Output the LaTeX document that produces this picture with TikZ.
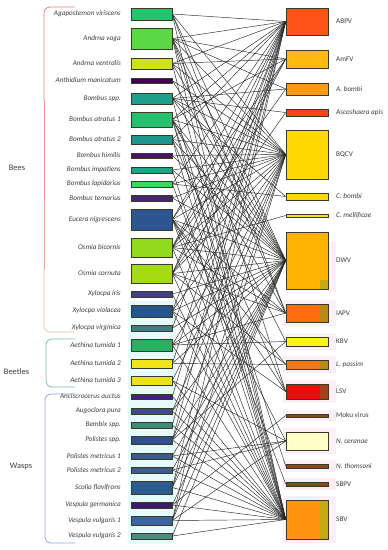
\documentclass[tikz,border=0pt]{standalone}
\usepackage{fontspec}
\setmainfont{Carlito}
\usetikzlibrary{calc}
\pgfdeclarelayer{halo}
\pgfdeclarelayer{edges}
\pgfsetlayers{halo,edges,main}
% left colours
\definecolor{cAgap}{HTML}{22C46E}
\definecolor{cVaga}{HTML}{5CD844}
\definecolor{cVent}{HTML}{CFE11C}
\definecolor{cAnth}{HTML}{440154}
\definecolor{cBspp}{HTML}{1F9E89}
\definecolor{cBat1}{HTML}{26C06E}
\definecolor{cBat2}{HTML}{1F968B}
\definecolor{cBhim}{HTML}{471365}
\definecolor{cBimp}{HTML}{20A386}
\definecolor{cBlap}{HTML}{35DD5C}
\definecolor{cBter}{HTML}{482475}
\definecolor{cEuc}{HTML}{2D5592}
\definecolor{cObic}{HTML}{93D91C}
\definecolor{cOcor}{HTML}{A6DB14}
\definecolor{cXiri}{HTML}{433E85}
\definecolor{cXvio}{HTML}{26568E}
\definecolor{cXvir}{HTML}{407C84}
\definecolor{cAe1}{HTML}{28B163}
\definecolor{cAe2}{HTML}{F0E619}
\definecolor{cAe3}{HTML}{E9E31B}
\definecolor{cAnc}{HTML}{46237A}
\definecolor{cAug}{HTML}{3E4A89}
\definecolor{cBem}{HTML}{3E8C78}
\definecolor{cPol}{HTML}{31508D}
\definecolor{cPm1}{HTML}{3A5B8C}
\definecolor{cPm2}{HTML}{3A5E8C}
\definecolor{cSco}{HTML}{2A5C90}
\definecolor{cVge}{HTML}{3F1A6B}
\definecolor{cVv1}{HTML}{3B64A0}
\definecolor{cVv2}{HTML}{4A8C7F}
% right colours
\definecolor{cABPV}{HTML}{FF5418}
\definecolor{cAmFV}{HTML}{FFB90F}
\definecolor{cAbo}{HTML}{FF9A14}
\definecolor{cAsc}{HTML}{FF4218}
\definecolor{cBQ}{HTML}{FFD800}
\definecolor{cCB}{HTML}{FFD70F}
\definecolor{cCM}{HTML}{FFDF20}
\definecolor{cDW}{HTML}{FFB300}
\definecolor{cIA}{HTML}{FF6D0D}
\definecolor{cKB}{HTML}{F8F519}
\definecolor{cLP}{HTML}{F07A1A}
\definecolor{cLS}{HTML}{E60E0E}
\definecolor{cBrown}{HTML}{8B4A1A}
\definecolor{cNC}{HTML}{FFFFC8}
\definecolor{cSB}{HTML}{FF9410}
\definecolor{cOlive}{HTML}{BC8A14}
\definecolor{cOliveY}{HTML}{C8A812}
\definecolor{cLSs}{HTML}{A4401A}
\definecolor{boxline}{HTML}{3A3A28}
\definecolor{txt}{HTML}{3C3C3C}
\definecolor{cyanhalo}{HTML}{E6FBFB}
\definecolor{pinkhalo}{HTML}{FDEFF8}
\definecolor{brA}{HTML}{F07C7C}
\definecolor{brB}{HTML}{EE9890}
\definecolor{brC}{HTML}{EAAA98}
\definecolor{brD}{HTML}{E4BCA0}
\definecolor{brBeet}{HTML}{72C2AC}
\definecolor{brWasp}{HTML}{8CA6D8}
\tikzset{
  box/.style={draw=boxline, line width=0.6pt, rectangle, inner sep=0pt},
  lbox/.style={box, minimum width=41pt},
  rbox/.style={box, minimum width=42pt},
  llab/.style={font=\fontsize{7.2}{8}\selectfont\itshape, text=txt, inner sep=0pt, anchor=east},
  rlab/.style={font=\fontsize{7.2}{8}\selectfont, text=txt, inner sep=0pt, anchor=west},
  grp/.style={font=\fontsize{8.4}{10}\selectfont, text=txt, inner sep=0pt},
  edge/.style={draw=black!85, line width=0.45pt},
  strip/.style={path picture={\fill[#1] ([xshift=-8pt]path picture bounding box.north east) rectangle (path picture bounding box.south east);}},
  corner/.style={path picture={\fill[#1] ([xshift=-8pt,yshift=9pt]path picture bounding box.south east) rectangle (path picture bounding box.south east);}},
  halo/.style={fill=pinkhalo},
  brk/.style={line width=0.8pt, rounded corners=6pt}
}
\newcommand\lnode[5]{\node[lbox, fill=#4, minimum height=#3pt] (#1) at (151.5,#2) {};
  \node[llab] (#1t) at (121,#2) {#5};}
\newcommand\rnode[6]{\node[rbox, fill=#4, minimum height=#3pt, #6] (#1) at (307,#2) {};
  \node[rlab] (#1t) at (336,#2) {#5};}
\begin{document}
\begin{tikzpicture}[x=1pt,y=-1pt]
\useasboundingbox (0,0) rectangle (388,550);
% left nodes
\lnode{L1}{14}{12}{cAgap}{Agapostemon viriscens}
\lnode{L2}{38.5}{21}{cVaga}{Andrna vaga}
\lnode{L3}{63.5}{11}{cVent}{Andrna ventralis}
\lnode{L4}{80.5}{5}{cAnth}{Anthidium manicatum}
\lnode{L5}{98.5}{11}{cBspp}{Bombus spp.}
\lnode{L6}{119.5}{15}{cBat1}{Bombus atratus 1}
\lnode{L7}{139.5}{9}{cBat2}{Bombus atratus 2}
\lnode{L8}{155.5}{5}{cBhim}{Bombus himilis}
\lnode{L9}{170}{6}{cBimp}{Bombus impatiens}
\lnode{L10}{184}{6}{cBlap}{Bombus lapidarius}
\lnode{L11}{198}{6}{cBter}{Bombus ternarius}
\lnode{L12}{219.5}{21}{cEuc}{Eucera nigrescens}
\lnode{L13}{247.5}{19}{cObic}{Osmia bicornis}
\lnode{L14}{273.5}{19}{cOcor}{Osmia cornuta}
\lnode{L15}{294}{6}{cXiri}{Xylocpa iris}
\lnode{L16}{311}{12}{cXvio}{Xylocpa violacea}
\lnode{L17}{328}{6}{cXvir}{Xylocpa virginica}
\lnode{L18}{345}{12}{cAe1}{Aethina tumida 1}
\lnode{L19}{363.5}{9}{cAe2}{Aethina tumida 2}
\lnode{L20}{380.5}{9}{cAe3}{Aethina tumida 3}
\lnode{L21}{396.5}{5}{cAnc}{Anciscrocerus auctus}
\lnode{L22}{411}{6}{cAug}{Augoclora pura}
\lnode{L23}{425}{6}{cBem}{Bembix spp.}
\lnode{L24}{440}{8}{cPol}{Polistes spp.}
\lnode{L25}{456}{6}{cPm1}{Polistes metricus 1}
\lnode{L26}{470}{6}{cPm2}{Polistes metricus 2}
\lnode{L27}{487.5}{13}{cSco}{Scolia flavifrons}
\lnode{L28}{505}{6}{cVge}{Vespula germanica}
\lnode{L29}{520.5}{9}{cVv1}{Vespula vulgaris 1}
\lnode{L30}{536}{6}{cVv2}{Vespula vulgaris 2}
% right nodes
\rnode{AB}{21.5}{27}{cABPV}{ABPV}{}
\rnode{AM}{59}{18}{cAmFV}{AmFV}{}
\rnode{ABo}{89}{12}{cAbo}{\itshape A. bombi}{}
\rnode{AS}{112.5}{7}{cAsc}{\itshape Ascoshaera apis}{}
\rnode{BQ}{154.5}{49}{cBQ}{BQCV}{}
\rnode{CB}{196.5}{7}{cCB}{\itshape C. bombi}{}
\rnode{CM}{215.5}{3}{cCM}{\itshape C. mellificae}{}
\rnode{DW}{260.5}{57}{cDW}{DWV}{corner=cOliveY}
\rnode{IA}{313}{18}{cIA}{IAPV}{strip=cOlive}
\rnode{KB}{341.5}{9}{cKB}{KBV}{}
\rnode{LP}{364.5}{9}{cLP}{\itshape L. passim}{strip=cOlive}
\rnode{LS}{391.5}{15}{cLS}{LSV}{strip=cLSs}
\rnode{MO}{415.5}{3}{cBrown}{Moku virus}{}
\rnode{NC}{441}{18}{cNC}{\itshape N. ceranae}{}
\rnode{NT}{466}{4}{cBrown}{\itshape N. thomsoni}{}
\rnode{SP}{484}{4}{cBrown}{SBPV}{}
\rnode{SB}{519.5}{39}{cSB}{SBV}{strip=cOliveY}
% halos
\begin{pgfonlayer}{halo}
\fill[cyanhalo] (128,301) rectangle (176,544);
\fill[halo] ([xshift=0pt,yshift=-10pt]DW.north east) rectangle ([xshift=8pt,yshift=-3pt]DW.south east);
\foreach \n in {IA,KB,LP,LS,MO,NC,NT,SP,SB}
  \fill[halo] ([xshift=-3pt,yshift=4pt]\n.north west) rectangle ([xshift=8pt,yshift=-4pt]\n.south east);
\end{pgfonlayer}
% edges
\begin{pgfonlayer}{edges}
\foreach \a/\b in {
 L1/AB,L1/BQ,L1/DW,L1/IA,L1/SB,
 L2/AB,L2/AM,L2/ABo,L2/BQ,L2/DW,L2/IA,L2/LS,L2/SB,
 L3/AB,L3/AM,L3/BQ,L3/DW,L3/SB,
 L4/BQ,L4/DW,
 L5/AB,L5/ABo,L5/AS,L5/BQ,L5/CB,L5/DW,L5/SB,
 L6/AB,L6/AM,L6/BQ,L6/DW,L6/IA,L6/KB,L6/SB,L6/NT,
 L7/AB,L7/BQ,L7/DW,L7/LS,L7/SB,
 L8/BQ,L8/DW,
 L9/BQ,L9/DW,L9/SB,
 L10/AB,L10/BQ,L10/CB,L10/SP,
 L11/BQ,L11/DW,
 L12/AB,L12/AM,L12/BQ,L12/DW,L12/IA,L12/LP,L12/LS,L12/NC,L12/SB,
 L13/AB,L13/AM,L13/ABo,L13/BQ,L13/CM,L13/DW,L13/IA,L13/SB,
 L14/AB,L14/AM,L14/AS,L14/BQ,L14/DW,L14/IA,L14/LP,L14/SB,
 L15/DW,L15/SB,
 L16/AB,L16/BQ,L16/DW,L16/LS,L16/SB,
 L17/AB,L17/DW,
 L18/BQ,L18/DW,L18/IA,L18/KB,L18/SB,
 L19/AB,L19/DW,L19/LP,
 L20/BQ,L20/NC,L20/SB,
 L21/AB,L21/SB,
 L22/BQ,L22/DW,L22/SB,
 L23/AB,L23/SB,
 L24/AB,L24/BQ,L24/DW,L24/KB,L24/SB,
 L25/DW,L25/NC,L25/SB,
 L26/DW,L26/NC,L26/SB,
 L27/AB,L27/BQ,L27/DW,L27/SB,
 L28/DW,L28/MO,L28/SB,
 L29/AB,L29/BQ,L29/DW,L29/NC,L29/SB,
 L30/DW,L30/SB}
  \draw[edge] (\a.east) -- (\b.west);
\end{pgfonlayer}
% brackets
\draw[brk, brA] (75,7) -- (44,7) -- (44,100);
\draw[brB, line width=0.8pt] (44,100) -- (44,200);
\draw[brC, line width=0.8pt] (44,200) -- (44,270);
\draw[brk, brD] (44,270) -- (44,332) -- (75,332);
\draw[brk, brBeet] (75,339) -- (46,339) -- (46,387) -- (75,387);
\draw[brk, brWasp] (75,394) -- (45,394) -- (45,543) -- (75,543);
% group labels
\node[grp] (gBees) at (17,168) {Bees};
\node[grp] (gBeet) at (16.5,372) {Beetles};
\node[grp] (gWasp) at (21,466) {Wasps};
\end{tikzpicture}
\end{document}
